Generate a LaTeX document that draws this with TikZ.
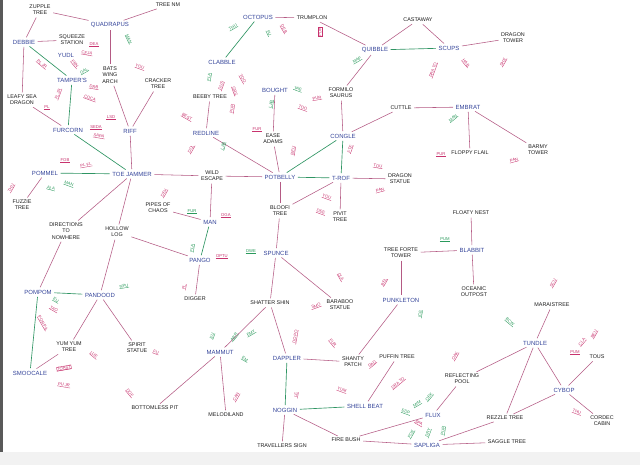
\documentclass[tikz,border=0pt]{standalone}
\usepackage{fontspec}
\setmainfont{Liberation Sans}
\definecolor{blueT}{HTML}{34449A}
\definecolor{blackT}{HTML}{1E1E1E}
\definecolor{pinkE}{HTML}{B45A84}
\definecolor{greenE}{HTML}{2F9563}
\definecolor{pinkL}{HTML}{C8336E}
\definecolor{greenL}{HTML}{2A9A5C}
\begin{document}
\begin{tikzpicture}[x=1pt,y=-1pt,
  pl/.style={font=\fontsize{6}{6.5}\selectfont, text=blueT, align=center, inner sep=1.5pt},
  bk/.style={font=\fontsize{5.4}{6.2}\selectfont, text=blackT, align=center, inner sep=1.5pt},
  pe/.style={draw=pinkE, line width=0.55pt, shorten >=1pt, shorten <=1pt},
  ge/.style={draw=greenE, line width=0.65pt, shorten >=1pt, shorten <=1pt},
  lab/.style={font=\fontsize{4.2}{4.6}\selectfont, text=#1, inner sep=0.3pt,
    append after command={(\tikzlastnode.south west) edge[draw=#1, line width=0.35pt] (\tikzlastnode.south east)}},
]
\useasboundingbox (0,0) rectangle (640,465);
\fill[white] (0,0) rectangle (640,465);
\fill[gray!10] (0,452) rectangle (640,465);
\fill[black!65] (0,0) rectangle (2.5,452);

% ---------- main places (blue) ----------
\node[pl] (debbie) at (24,42) {DEBBIE};
\node[pl] (quad) at (110,25) {QUADRAPUS};
\node[pl] (yudl) at (66,55) {YUDL};
\node[pl] (tamp) at (72,80) {TAMPER'S};
\node[pl] (furc) at (68,130) {FURCORN};
\node[pl] (riff) at (130,131) {RIFF};
\node[pl] (octo) at (258,17) {OCTOPUS};
\node[pl] (clab) at (222,62) {CLABBLE};
\node[pl] (quib) at (375,50) {QUIBBLE};
\node[pl] (scups) at (449,48) {SCUPS};
\node[pl] (bought) at (275,90) {BOUGHT};
\node[pl] (redl) at (206,133) {REDLINE};
\node[pl] (congle) at (343,136) {CONGLE};
\node[pl] (embrat) at (468,107) {EMBRAT};
\node[pl] (pommel) at (45,173) {POMMEL};
\node[pl] (jammer) at (132,174) {TOE JAMMER};
\node[pl] (potb) at (280,177) {POTBELLY};
\node[pl] (trof) at (341,178) {T-ROF};
\node[pl] (man) at (210,222) {MAN};
\node[pl] (pango) at (200,260) {PANGO};
\node[pl] (spunce) at (276,253) {SPUNCE};
\node[pl] (blabbit) at (472,250) {BLABBIT};
\node[pl] (punk) at (401,300) {PUNKLETON};
\node[pl] (pompom) at (38,292) {POMPOM};
\node[pl] (pandood) at (100,295) {PANDOOD};
\node[pl] (smooc) at (30,373) {SMOOCALE};
\node[pl] (mammut) at (220,352) {MAMMUT};
\node[pl] (dappler) at (287,358) {DAPPLER};
\node[pl] (noggin) at (285,410) {NOGGIN};
\node[pl] (shell) at (365,406) {SHELL BEAT};
\node[pl] (flux) at (433,415) {FLUX};
\node[pl] (sapliga) at (427,445) {SAPLIGA};
\node[pl] (tundle) at (535,343) {TUNDLE};
\node[pl] (cybop) at (564,390) {CYBOP};

% ---------- other places (black) ----------
\node[bk] (zupple) at (40,10) {ZUPPLE\\TREE};
\node[bk] (treenm) at (168,5) {TREE NM};
\node[bk] (squeeze) at (72,40) {SQUEEZE\\STATION};
\node[bk] (leafy) at (22,100) {LEAFY SEA\\DRAGON};
\node[bk] (bats) at (110,75) {BATS\\WING\\ARCH};
\node[bk] (cracker) at (158,84) {CRACKER\\TREE};
\node[bk] (trumplon) at (312,18) {TRUMPLON};
\node[bk] (castaway) at (418,20) {CASTAWAY};
\node[bk] (dtower) at (513,38) {DRAGON\\TOWER};
\node[bk] (beeby) at (210,97) {BEEBY TREE};
\node[bk] (formilo) at (341,93) {FORMILO\\SAURUS};
\node[bk] (ease) at (273,139) {EASE\\ADAMS};
\node[bk] (cuttle) at (401,108) {CUTTLE};
\node[bk] (floppy) at (470,153) {FLOPPY FLAIL};
\node[bk] (barmy) at (538,150) {BARMY\\TOWER};
\node[bk] (fuzzie) at (22,205) {FUZZIE\\TREE};
\node[bk] (wild) at (212,176) {WILD\\ESCAPE};
\node[bk] (pipes) at (158,208) {PIPES OF\\CHAOS};
\node[bk] (dirs) at (66,231) {DIRECTIONS\\TO\\NOWHERE};
\node[bk] (hollow) at (117,232) {HOLLOW\\LOG};
\node[bk] (digger) at (195,299) {DIGGER};
\node[bk] (bloofi) at (280,211) {BLOOFI\\TREE};
\node[bk] (dstatue) at (400,179) {DRAGON\\STATUE};
\node[bk] (pivit) at (340,217) {PIVIT\\TREE};
\node[bk] (floaty) at (471,213) {FLOATY NEST};
\node[bk] (treeforte) at (401,253) {TREE FORTE\\TOWER};
\node[bk] (oceanic) at (474,292) {OCEANIC\\OUTPOST};
\node[bk] (baraboo) at (340,305) {BARABOO\\STATUE};
\node[bk] (marais) at (552,305) {MARAISTREE};
\node[bk] (shatter) at (270,303) {SHATTER SHIN};
\node[bk] (yumyum) at (69,347) {YUM YUM\\TREE};
\node[bk] (spirit) at (137,348) {SPIRIT\\STATUE};
\node[bk] (bottomless) at (155,408) {BOTTOMLESS PIT};
\node[bk] (melod) at (226,415) {MELODILAND};
\node[bk] (trav) at (282,446) {TRAVELLERS SIGN};
\node[bk] (firebush) at (346,440) {FIRE BUSH};
\node[bk] (shanty) at (353,362) {SHANTY\\PATCH};
\node[bk] (puffin) at (397,357) {PUFFIN TREE};
\node[bk] (reflect) at (462,379) {REFLECTING\\POOL};
\node[bk] (tous) at (597,357) {TOUS};
\node[bk] (rezzle) at (505,418) {REZZLE TREE};
\node[bk] (saggle) at (507,442) {SAGGLE TREE};
\node[bk] (cordec) at (602,421) {CORDEC\\CABIN};

% ---------- connectors ----------
\foreach \a/\b in {zupple/debbie, zupple/quad, quad/treenm, debbie/squeeze, debbie/leafy,
  quad/bats, leafy/furc, bats/riff, cracker/riff, riff/jammer,
  octo/trumplon, beeby/redl, bought/ease, redl/potb, ease/potb,
  formilo/quib, quib/trumplon, quib/castaway, castaway/scups, scups/dtower,
  formilo/congle, congle/cuttle, cuttle/embrat, embrat/floppy, embrat/barmy,
  fuzzie/pommel, jammer/dirs, jammer/hollow, jammer/wild, hollow/pango,
  dirs/pompom, hollow/pandood, pandood/yumyum, pandood/spirit, yumyum/smooc,
  bottomless/mammut, wild/potb, wild/man, pipes/man, pango/digger,
  potb/bloofi, bloofi/spunce, trof/bloofi, trof/pivit, spunce/shatter, spunce/baraboo,
  trof/dstatue, floaty/blabbit, blabbit/oceanic, treeforte/blabbit, treeforte/punk,
  punk/shanty, shanty/dappler, puffin/shell, firebush/flux, firebush/sapliga,
  noggin/firebush, noggin/trav, shatter/dappler, shatter/mammut, mammut/melod,
  flux/reflect, reflect/tundle, sapliga/rezzle, sapliga/saggle, marais/tundle,
  tundle/rezzle, tundle/cybop, tous/cybop, cybop/rezzle, cybop/cordec}
  \draw[pe] (\a) -- (\b);
\foreach \a/\b in {debbie/tamp, tamp/furc, furc/jammer, octo/clab, congle/potb,
  quib/scups, congle/trof, pommel/jammer, pompom/pandood, pompom/smooc,
  man/pango, potb/trof, shell/noggin, dappler/noggin}
  \draw[ge] (\a) -- (\b);

% ---------- small labels ----------
\foreach \i/\x/\y/\t/\r/\c in {
  1/42/64/PL JR/-40/pinkL, 2/94/44/DEA/0/pinkL, 3/129/39/MAN/-65/greenL,
  4/87/53/CEJA/-10/pinkL, 5/75/64/FRN/-50/pinkL, 6/84/71/GAL/30/greenL,
  7/94/87/DRB/-10/pinkL, 8/90/98/COCA/-20/pinkL, 9/58/94/FL JR/70/pinkL,
  10/47/107/PL/0/pinkL, 11/96/127/SEDA/0/pinkL, 12/99/136/SAPA/-10/pinkL,
  13/111/117/LSD/0/pinkL, 14/140/67/YOU/-20/pinkL,
  15/233/27/THU/30/greenL, 16/269/33/FU/-65/greenL, 17/284/29/DEB/-60/pinkL,
  19/209/77/FLA/80/greenL, 20/221/86/DUS/70/pinkL, 21/235/91/GRS/-70/pinkL,
  22/243/79/TOO/-60/pinkL, 23/232/109/PUR/80/pinkL,
  24/187/117/BEST/-30/pinkL, 25/191/149/DOL/60/pinkL, 26/223/146/LAB/75/greenL,
  27/298/89/TAE/-20/greenL, 28/303/108/TOO/-20/pinkL, 29/271/104/LAB/80/greenL,
  30/257/129/FUR/0/pinkL, 31/293/151/BEU/80/pinkL, 32/317/98/PUR/10/pinkL,
  33/357/60/MAP/30/greenL, 34/433/70/DRA TO/70/pinkL, 35/466/63/HAB/-50/pinkL,
  36/503/62/SHE/60/pinkL, 37/350/149/FTE/70/pinkL, 38/453/118/MAN/40/greenL,
  39/441/154/PUR/0/pinkL, 40/514/160/PAN/15/pinkL,
  41/65/160/FOB/0/pinkL, 42/86/165/PL FL/10/pinkL, 43/51/188/ALA/-15/greenL,
  44/69/184/MAN/-20/greenL, 45/11/188/THU/60/pinkL, 46/164/193/DEX/60/pinkL,
  47/327/197/YOU/-20/pinkL, 48/321/212/DEE/-20/pinkL,
  49/192/211/FUR/0/greenL, 50/226/215/DGA/0/pinkL, 51/192/248/FLA/80/greenL,
  52/222/256/DPTU/0/pinkL, 53/184/287/FL/80/pinkL, 54/251/251/DWE/0/greenL,
  55/316/306/SMO/20/pinkL, 56/341/277/CLA/-60/pinkL,
  57/378/166/TOU/-10/pinkL, 58/380/190/PAN/15/pinkL, 59/445/239/PUM/0/greenL,
  60/384/282/BEL/60/pinkL, 61/420/314/ICE/80/greenL, 62/124/286/NPU/10/greenL,
  63/56/300/EU/-30/greenL, 64/54/309/TAO/-30/pinkL, 65/43/323/POR PA/-60/pinkL,
  66/94/355/LUE/-40/pinkL, 67/156/352/FU/-20/pinkL, 69/64/385/PU JR/-10/pinkL,
  70/130/393/DOF/-50/pinkL, 71/212/336/EU/70/greenL, 72/234/337/ABR/50/greenL,
  73/251/333/EMY/30/greenL, 74/245/359/EM/-30/greenL, 75/236/397/CAN/60/pinkL,
  76/295/337/DO PO/80/pinkL, 77/296/395/LE/80/pinkL, 78/333/343/FUR/-50/pinkL,
  79/372/364/DAD/40/pinkL, 80/342/390/YUM/-20/pinkL, 81/398/383/DRA TO/40/pinkL,
  82/406/412/EDP/-20/greenL, 83/417/404/MIM/30/greenL, 84/429/397/OEK/50/greenL,
  85/419/423/SPA/-30/pinkL, 86/411/434/FOE/60/greenL, 87/428/433/DRY/70/greenL,
  88/443/431/PUR/80/greenL, 89/455/356/OAK/60/pinkL, 90/510/322/BCW/-40/greenL,
  91/553/283/SCU/60/pinkL, 92/575/352/PUM/0/pinkL, 93/582/342/CLA/50/pinkL,
  94/594/334/BEU/60/pinkL, 95/577/412/THU/-20/pinkL}
  \node[lab=\c, rotate=\r] (lab\i) at (\x,\y) {\t};
\node[lab=pinkL, draw=pinkL, rotate=90] (lab18) at (320,32) {PDK};
\node[lab=pinkL, draw=pinkL, rotate=10] (lab68) at (64,368) {TOAST};
\end{tikzpicture}
\end{document}
